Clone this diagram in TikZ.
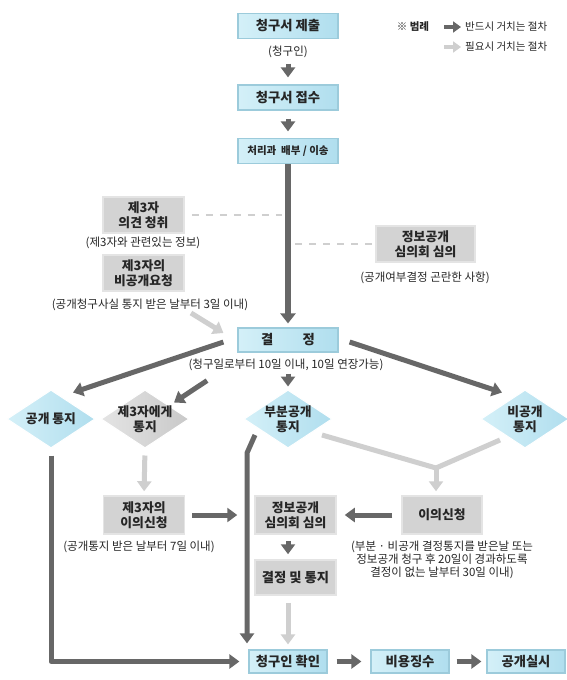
\documentclass[tikz,border=0pt]{standalone}
\usepackage{fontspec}
\setmainfont{Noto Sans CJK KR}
\usetikzlibrary{arrows.meta,shapes.geometric}
\definecolor{bluefill}{HTML}{B0DEEE}
\definecolor{bluefillL}{HTML}{D4F0F8}
\definecolor{blueedge}{HTML}{9CCBDB}
\definecolor{grayfill}{HTML}{D3D3D3}
\definecolor{grayedge}{HTML}{E4E4E4}
\definecolor{darkarr}{HTML}{676767}
\definecolor{lightarr}{HTML}{CFCFCF}
\definecolor{txt}{HTML}{262626}
\tikzset{
  bbox/.style={draw=blueedge, line width=1.2pt, left color=bluefillL, right color=bluefill,
    minimum width=100pt, minimum height=25pt, inner sep=0pt, text=txt,
    font=\bfseries\fontsize{13.3}{15}\selectfont},
  gbox/.style={draw=grayedge, line width=1.5pt, fill=grayfill, minimum width=81pt,
    minimum height=36pt, inner sep=0pt, align=center, text=txt,
    font=\bfseries\fontsize{12.8}{15}\selectfont},
  captxt/.style={font=\fontsize{11.5}{13}\selectfont, text=txt, align=center, inner sep=0pt},
  dlbl/.style={font=\bfseries\fontsize{12.8}{14.5}\selectfont, text=txt, align=center},
  diamB/.style={diamond, draw=white, line width=1pt, minimum width=88pt, minimum height=58pt,
    inner sep=0pt, left color=bluefillL, right color=bluefill},
  diamG/.style={diamond, draw=white, line width=1pt, minimum width=88pt, minimum height=58pt,
    inner sep=0pt, left color=grayedge, right color=grayfill!95!black},
  darrow/.style={draw=darkarr, line width=5pt, line join=round, -{Triangle[width=14pt,length=10pt]}},
  larrow/.style={draw=lightarr, line width=5pt, line join=round, -{Triangle[width=14pt,length=10pt]}},
  lline/.style={draw=lightarr, line width=5pt, line join=round},
  dashln/.style={draw=lightarr, line width=2.5pt, dash pattern=on 7pt off 7pt},
  legtxt/.style={font=\fontsize{10.5}{12}\selectfont, text=txt, anchor=west, inner sep=0pt},
}
\begin{document}
\begin{tikzpicture}[x=1pt,y=-1pt]
\useasboundingbox[fill=white] (0,0) rectangle (567,680);

% legend
\node[font=\bfseries\fontsize{10.5}{12}\selectfont, text=txt, inner sep=0pt] (leg) at (413,27) {※ 범례};
\node[legtxt] (lg1) at (465,27) {반드시 거치는 절차};
\node[legtxt] (lg2) at (465,47) {필요시 거치는 절차};
\draw[draw=darkarr, line width=4pt, -{Triangle[width=11pt,length=8pt]}] ([xshift=-21pt]lg1.west) -- ([xshift=-4pt]lg1.west);
\draw[draw=lightarr, line width=4pt, -{Triangle[width=11pt,length=8pt]}] ([xshift=-21pt]lg2.west) -- ([xshift=-4pt]lg2.west);

% top flow
\node[bbox] (sub) at (288,26) {청구서 제출};
\node[captxt] (c0) at (288,52) {(청구인)};
\node[bbox] (rec) at (288,97.5) {청구서 접수};
\node[bbox, font=\bfseries\fontsize{10.5}{12}\selectfont] (proc) at (288,151) {처리과\ \ 배부 / 이송};

\draw[darrow, shorten <=24.5pt, shorten >=7pt] (sub.south) -- (rec.north);
\draw[darrow, shorten <=8pt, shorten >=6.5pt] (rec.south) -- (proc.north);

% side boxes
\node[gbox] (opin) at (143.5,215) {제3자\\의견 청취};
\node[captxt] (c1) at (143,243) {(제3자와 관련있는 정보)};
\node[gbox] (nreq) at (143.5,273) {제3자의\\비공개요청};
\node[captxt] (c2) at (150,305) {(공개청구사실 통지 받은 날부터 3일 이내)};
\node[gbox, minimum width=99pt] (comm1) at (425.5,244) {정보공개\\심의회 심의};
\node[captxt] (c3) at (425,278) {(공개여부결정 곤란한 사항)};

% decision
\node[bbox, minimum height=24pt] (dec) at (288,340) {결\hspace{2.2em}정};
\node[captxt] (c4) at (286,365) {(청구일로부터 10일 이내, 10일 연장가능)};

\draw[darrow, line width=5.5pt, -{Triangle[width=15pt,length=10pt]}, shorten >=4pt] (proc.south) -- (dec.north);
\draw[dashln, shorten <=7pt, shorten >=6pt] (opin.east) -- (opin.east -| proc.south);
\draw[dashln, shorten <=7pt, shorten >=3pt] (comm1.west -| proc.south) -- (comm1.west);
\draw[larrow] ([shift={(47.5,40)}]nreq.center) -- ([shift={(-14,-7)}]dec.west);

% diamonds
\node[diamB, label={[dlbl]center:공개 통지}] (d1) at (51,419) {};
\node[diamG, label={[dlbl]center:제3자에게\\통지}] (d2) at (145,419) {};
\node[diamB, label={[dlbl]center:부분공개\\통지}] (d3) at (288,419) {};
\node[diamB, label={[dlbl]center:비공개\\통지}] (d4) at (525,419) {};

\draw[darrow] ([shift={(-14,2)}]dec.west) -- ([shift={(22,3)}]d1.north);
\draw[darrow] ([shift={(-81,28)}]dec.south) -- ([shift={(29,13)}]d2.north);
\draw[darrow, shorten <=21pt, shorten >=3pt] (dec.south) -- (d3.north);
\draw[darrow] ([shift={(11,2)}]dec.east) -- ([shift={(-23,3)}]d4.north);

% lower boxes
\node[gbox, minimum height=38pt] (obj3) at (144,515) {제3자의\\이의신청};
\node[captxt] (c5) at (139,547) {(공개통지 받은 날부터 7일 이내)};
\node[gbox, minimum height=38pt] (comm2) at (295.5,515) {정보공개\\심의회 심의};
\node[gbox, minimum width=80pt, minimum height=38pt] (obj) at (442,515) {이의신청};
\node[captxt] (c6) at (442,560) {(부분 · 비공개 결정통지를 받은날 또는\\정보공개 청구 후 20일이 경과하도록\\결정이 없는 날부터 30일 이내)};
\node[gbox, minimum height=35pt, font=\bfseries\fontsize{13.3}{15}\selectfont] (fin) at (295.5,577.5) {결정 및 통지};

\node[bbox, minimum width=78pt, minimum height=23pt] (conf) at (288,661.5) {청구인 확인};
\node[bbox, minimum width=78pt, minimum height=23pt] (fee) at (410,661.5) {비용징수};
\node[bbox, minimum width=78pt, minimum height=23pt] (exe) at (526,661.5) {공개실시};

\coordinate (j) at (436,468);

\draw[larrow, shorten <=7pt, shorten >=4pt] (d2.south) -- (obj3.north);
\draw[darrow, shorten <=7pt, shorten >=17pt] (obj3.east) -- (comm2.west);
\draw[darrow, shorten <=9pt, shorten >=8pt] (obj.west) -- (comm2.east);
\draw[darrow, shorten <=6pt, shorten >=5pt] ([xshift=-7.5pt]comm2.south) -- ([xshift=-7.5pt]fin.north);
\draw[larrow, shorten <=7pt, shorten >=5pt] ([xshift=-7.5pt]fin.south) -- (conf.north);

\draw[lline] ([shift={(34,16)}]d3.center) -- (j);
\draw[lline] ([shift={(-25,21)}]d4.center) -- (j);
\draw[larrow, shorten >=4pt] (j) -- (j |- obj.north);

\draw[darrow] ([shift={(-33,16)}]d3.center) -- ([shift={(-41,34)}]d3.center) -- ([shift={(-41,-6)}]conf.north);
\draw[darrow, shorten <=7pt, shorten >=9pt] (d1.south) -- (d1.south |- conf.west) -- (conf.west);

\draw[darrow, shorten <=9pt, shorten >=9pt] (conf.east) -- (fee.west);
\draw[darrow, shorten <=7pt, shorten >=5pt] (fee.east) -- (exe.west);
\end{tikzpicture}
\end{document}
